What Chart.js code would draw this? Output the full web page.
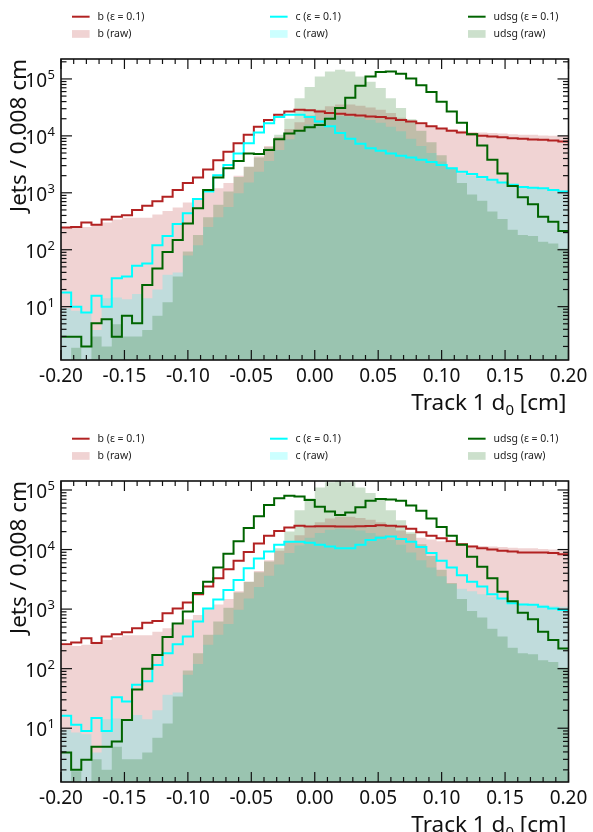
<!DOCTYPE html>
<html>
<head>
<meta charset="utf-8">
<script src="https://cdn.jsdelivr.net/npm/chart.js@4.4.1/dist/chart.umd.min.js"></script>
<style>
  body { margin: 0; background: #fff; }
  canvas { display: block; }
</style>
</head>
<body>
<canvas id="d0Chart1" width="593" height="416"></canvas>
<canvas id="d0Chart2" width="593" height="416"></canvas>
<script>
// ── Binning: 50 bins of 0.008 cm over [-0.2, 0.2] ────────────────────────────
const X_MIN = -0.2, X_MAX = 0.2, BIN_W = 0.008, N_BINS = 50;
const binEdges = Array.from({ length: N_BINS + 1 }, (_, i) => +(X_MIN + i * BIN_W).toFixed(3));

const xTickValues = [-0.2, -0.15, -0.1, -0.05, 0, 0.05, 0.1, 0.15, 0.2];
const xTickLabels = ['-0.20', '-0.15', '-0.10', '-0.05', '0.00', '0.05', '0.10', '0.15', '0.20'];
const yTickExponents = [1, 2, 3, 4, 5];
const flavours = ['b', 'c', 'udsg'];

// ── Raw jets per bin (same sample in both panels) ────────────────────────────
const rawB = [240, 240, 251, 282, 302, 339, 363, 363, 363, 417, 479, 550, 676, 794, 1000, 1200, 1480, 2000, 2880, 4370,
              6610, 9550, 13200, 17400, 22900, 28800, 33100, 35500, 35500, 33900, 31600, 28800, 25100, 20900, 18200, 15800, 14800, 13800, 12900, 12300,
              11700, 11500, 11200, 11000, 10700, 10500, 10500, 10200, 10000, 10000];
const rawC = [9.5, 8.5, 7.9, 3.9, 14.1, 14.5, 13.5, 16.6, 14.1, 20, 36.3, 39.8, 79, 120, 251, 372, 562, 977, 1510, 2340,
              3630, 5620, 8710, 11700, 15800, 19000, 21400, 22400, 21900, 20900, 19000, 17000, 14500, 12000, 8910, 6610, 5010, 3550, 2630, 2190,
              2000, 1780, 1620, 1480, 1320, 1230, 1200, 1180, 1120, 1100];
const rawUdsg = [0, 1.9, 0, 3, 2, 4.9, 3, 3, 3.9, 6.9, 12, 34, 93, 182, 372, 617, 1050, 1900, 2880, 4170,
                 6310, 10500, 20000, 45700, 72400, 110000, 135000, 145000, 135000, 110000, 89100, 69200, 45700, 30900, 19500, 12300, 7760, 4570, 2750, 1480,
                 933, 724, 468, 347, 224, 182, 174, 138, 129, 105];

// ── Panel 1: jets at ε = 0.1 ─────────────────────────────────────────────────
const cutB1 = [245, 250, 300, 275, 340, 380, 405, 500, 590, 710, 850, 1120, 1480, 1860, 2570, 3720, 5250, 7400, 10500, 14500,
               19000, 23400, 26900, 28800, 28200, 26900, 25100, 24500, 23400, 22900, 21900, 21400, 20400, 19000, 17800, 16600, 14800, 13500, 12300, 11500,
               10700, 10000, 9770, 9440, 9120, 8910, 8610, 8510, 8320, 7940];
const cutC1 = [17.8, 10, 7.9, 15.5, 10, 31.6, 33.9, 52.5, 57.5, 120, 174, 282, 437, 776, 1050, 2040, 3090, 4900, 7410, 11500,
               16600, 21400, 23400, 23400, 21400, 17800, 14800, 11200, 8910, 7240, 6030, 5500, 4900, 4470, 4170, 3800, 3470, 3090, 2690, 2340,
               2140, 1900, 1700, 1510, 1380, 1260, 1230, 1200, 1120, 1050];
const cutUdsg1 = [2.95, 2.95, 2.0, 5.1, 6.0, 2.95, 6.9, 5.1, 24, 47, 91, 148, 288, 537, 1120, 1860, 2690, 3630, 4900, 4790,
                  5620, 8710, 11000, 12300, 14100, 15500, 20000, 30900, 46800, 75900, 110000, 132000, 135000, 123000, 102000, 77600, 58900, 39800, 26900, 17000,
                  10700, 6760, 3800, 2190, 1320, 832, 631, 380, 309, 214];

// ── Panel 2: jets at ε = 0.1 ─────────────────────────────────────────────────
const cutB2 = [257, 275, 324, 269, 347, 380, 407, 479, 589, 631, 851, 1020, 1290, 1780, 2400, 3310, 4680, 6460, 9120, 12600,
               17000, 20400, 23400, 25100, 24300, 24500, 24500, 24300, 24300, 24500, 24800, 25700, 25100, 24300, 22400, 19500, 17000, 15500, 13800, 12300,
               11200, 10500, 10000, 9550, 9230, 8910, 8910, 8910, 8710, 8320];
const cutC2 = [16.2, 11.4, 9.0, 14.8, 9.0, 33.1, 28.2, 53.7, 61.7, 115, 182, 257, 347, 617, 1020, 1450, 2090, 3090, 4840, 7080,
               9230, 12000, 13500, 13500, 13000, 12000, 11200, 10500, 10500, 12000, 14500, 15800, 16600, 15100, 13500, 11000, 8710, 6460, 5010, 3720,
               2880, 2400, 1780, 1510, 1260, 1200, 1180, 1100, 1020, 966];
const cutUdsg2 = [3.9, 2.0, 2.95, 4.9, 4.9, 6.0, 13.8, 44.7, 100, 170, 339, 575, 912, 1860, 2880, 5010, 8510, 13800, 22900, 36300,
                  56200, 72400, 80400, 77600, 67600, 52500, 43700, 38000, 41700, 51300, 66100, 70800, 69200, 66100, 55000, 44700, 33100, 24000, 17000, 12000,
                  7590, 5130, 3310, 1950, 1350, 871, 676, 417, 302, 219];

// ── Colours (matplotlib firebrick / cyan / darkgreen, fills at alpha 0.2) ────
const LINE_COLORS = ['#b22222', '#00ffff', '#006400'];
const FILL_COLORS = ['rgba(178,34,34,0.2)', 'rgba(0,255,255,0.2)', 'rgba(0,100,0,0.2)'];

const FONT = '"Noto Sans", "DejaVu Sans", sans-serif';

// histogram contents -> step points at the left bin edges (+ closing right edge)
function toSteps(values) {
    const pts = values.map((v, i) => ({ x: binEdges[i], y: v > 0 ? v : 1e-3 }));
    pts.push({ x: X_MAX, y: pts[pts.length - 1].y });
    return pts;
}

function fillSet(values, k) {
    return {
        data: toSteps(values),
        stepped: 'before',
        borderWidth: 0,
        borderColor: 'transparent',
        backgroundColor: FILL_COLORS[k],
        fill: 'start',
        pointRadius: 0,
        order: 6 - k,
    };
}

function lineSet(values, k) {
    return {
        data: toSteps(values),
        stepped: 'before',
        borderWidth: 2,
        borderColor: LINE_COLORS[k],
        borderJoinStyle: 'miter',
        fill: false,
        pointRadius: 0,
        order: 3 - k,
    };
}

function hLine(ctx, x0, y0, x1, y1) {
    ctx.beginPath();
    ctx.moveTo(x0, y0);
    ctx.lineTo(x1, y1);
    ctx.stroke();
}

// ── Frame, inward ticks, labels and legend in the mplhep look ────────────────
const mplAxes = {
    id: 'mplAxes',
    afterDraw(chart) {
        const { ctx, chartArea: a, scales: { x, y } } = chart;
        ctx.save();
        ctx.strokeStyle = '#111';
        ctx.fillStyle = '#111';

        // x ticks every 0.01, major every 0.05
        ctx.lineWidth = 1.2;
        for (let i = 0; i <= 40; i++) {
            const px = x.getPixelForValue(X_MIN + i * 0.01);
            const len = i % 5 === 0 ? 10 : 5;
            hLine(ctx, px, a.bottom, px, a.bottom - len);
            hLine(ctx, px, a.top, px, a.top + len);
        }
        // log y ticks
        for (let e = 0; e <= 6; e++) {
            for (let m = 1; m <= 9; m++) {
                const v = m * Math.pow(10, e);
                if (v < y.min || v > y.max) continue;
                const py = y.getPixelForValue(v);
                const len = m === 1 ? 11 : 5.5;
                hLine(ctx, a.left, py, a.left + len, py);
                hLine(ctx, a.right, py, a.right - len, py);
            }
        }
        ctx.lineWidth = 1.6;
        ctx.strokeRect(a.left, a.top, a.right - a.left, a.bottom - a.top);

        // x tick labels
        ctx.font = '19px ' + FONT;
        ctx.textAlign = 'center';
        ctx.textBaseline = 'alphabetic';
        xTickValues.forEach((v, i) => ctx.fillText(xTickLabels[i], x.getPixelForValue(v), a.bottom + 21.5));

        // y tick labels 10^n
        ctx.textAlign = 'right';
        yTickExponents.forEach(e => {
            const py = y.getPixelForValue(Math.pow(10, e));
            const right = a.left - 6;
            ctx.font = '13px ' + FONT;
            const ew = ctx.measureText(String(e)).width;
            ctx.fillText(String(e), right, py);
            ctx.font = '19px ' + FONT;
            ctx.fillText('10', right - ew - 0.5, py + 8);
        });

        // x title with subscript, right aligned
        const parts = [['Track 1 d', 22.5, 0], ['0', 15, 5], [' [cm]', 22.5, 0]];
        let total = 0;
        parts.forEach(p => { ctx.font = p[1] + 'px ' + FONT; total += ctx.measureText(p[0]).width; });
        let cx = a.right - 2 - total;
        ctx.textAlign = 'left';
        parts.forEach(p => {
            ctx.font = p[1] + 'px ' + FONT;
            ctx.fillText(p[0], cx, a.bottom + 50 + p[2]);
            cx += ctx.measureText(p[0]).width;
        });

        // y title, top aligned
        ctx.save();
        ctx.translate(26, a.top);
        ctx.rotate(-Math.PI / 2);
        ctx.textAlign = 'right';
        ctx.font = '22.5px ' + FONT;
        ctx.fillText('Jets / 0.008 cm', 0, 0);
        ctx.restore();

        // legend: 3 columns, ε = 0.1 lines on top row, raw patches below
        const cols = [72, 270, 468];
        const row1 = a.top - 42.3, row2 = a.top - 25;
        ctx.font = '10.5px ' + FONT;
        ctx.textAlign = 'left';
        ctx.textBaseline = 'middle';
        flavours.forEach((f, k) => {
            const c0 = cols[k];
            ctx.strokeStyle = LINE_COLORS[k];
            ctx.lineWidth = 2;
            hLine(ctx, c0, row1, c0 + 17.6, row1);
            ctx.fillStyle = FILL_COLORS[k];
            ctx.fillRect(c0, row2 - 3.9, 17.6, 7.7);
            ctx.fillStyle = '#222';
            ctx.fillText(f + ' (ε = 0.1)', c0 + 25.6, row1);
            ctx.fillText(f + ' (raw)', c0 + 25.6, row2);
        });
        ctx.restore();
    }
};

function makePanel(canvasId, cuts, yMin, yMax, padding) {
    return new Chart(document.getElementById(canvasId), {
        type: 'line',
        data: {
            datasets: [
                fillSet(rawB, 0), fillSet(rawC, 1), fillSet(rawUdsg, 2),
                lineSet(cuts[0], 0), lineSet(cuts[1], 1), lineSet(cuts[2], 2),
            ]
        },
        options: {
            responsive: false,
            animation: false,
            devicePixelRatio: 1,
            layout: { padding },
            plugins: { legend: { display: false }, tooltip: { enabled: false } },
            scales: {
                x: { type: 'linear', min: X_MIN, max: X_MAX, display: false },
                y: { type: 'logarithmic', min: yMin, max: yMax, display: false }
            }
        },
        plugins: [mplAxes]
    });
}

makePanel('d0Chart1', [cutB1, cutC1, cutUdsg1], 1.156, 2.24e5, { left: 61, right: 24.5, top: 59, bottom: 56 });
makePanel('d0Chart2', [cutB2, cutC2, cutUdsg2], 1.25, 1.416e5, { left: 61, right: 24.5, top: 65, bottom: 50 });
</script>
</body>
</html>
